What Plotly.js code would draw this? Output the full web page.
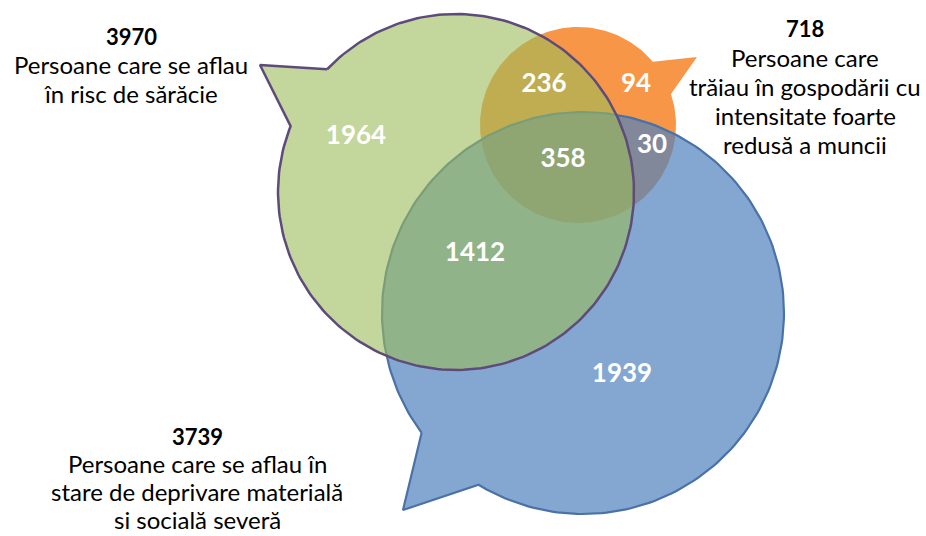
<!DOCTYPE html>
<html>
<head>
<meta charset="utf-8">
<script src="https://cdn.plot.ly/plotly-3.0.1.min.js"></script>
<style>html,body{margin:0;padding:0;background:#fff;}#chart{width:926px;height:536px;}</style>
</head>
<body>
<div id="chart"></div>
<script>
// ---- DATA ----
const setTotals = [3970, 718, 3739];
const setLabelLines = [
  ["Persoane care se aflau", "în risc de sărăcie"],
  ["Persoane care", "trăiau în gospodării cu", "intensitate foarte", "redusă a muncii"],
  ["Persoane care se aflau în", "stare de deprivare materială", "si socială severă"]
];
const regionNames = ["doar sărăcie", "sărăcie + muncă", "doar muncă", "toate trei", "muncă + deprivare", "sărăcie + deprivare", "doar deprivare"];
const regionValues = [1964, 236, 94, 358, 30, 1412, 1939];

// ---- GEOMETRY / STYLE (pixel space of the 926x536 canvas) ----
// set order: 0 = poverty (green), 1 = work intensity (orange), 2 = deprivation (blue)
const bubbles = [
  {cx: 456, cy: 192, r: 178, a1: -136.4, a2: 201.7, tip: [260, 65],
   fill: "rgba(155,187,89,0.6)", line: "#5F4B7B", lw: 2.5},
  {cx: 578, cy: 125, r: 98, a1: -18.4, a2: 319.8, tip: [697, 57],
   fill: "#F79646", line: "rgba(0,0,0,0)", lw: 0},
  {cx: 583, cy: 313, r: 201, a1: 143.4, a2: 481.3, tip: [403, 510],
   fill: "rgba(79,129,189,0.7)", line: "#4A72A8", lw: 2.2}
];
const drawOrder = [1, 2, 0];
const setLabelPos = [
  {x: 131, y0: 36, gap: 28.5},
  {x: 805, y0: 28, gap: 29.2},
  {x: 197, y0: 436, gap: 27.8}
];
const regionPos = [[356,137],[544,85],[636,85],[563,160],[652,146],[475,254],[622,375]];

function bubblePath(b) {
  const xs = [], ys = [];
  const n = 240;
  for (let i = 0; i <= n; i++) {
    const t = (b.a1 + (b.a2 - b.a1) * i / n) * Math.PI / 180;
    xs.push(b.cx + b.r * Math.cos(t));
    ys.push(b.cy + b.r * Math.sin(t));
  }
  xs.push(b.tip[0]); ys.push(b.tip[1]);
  xs.push(xs[0]); ys.push(ys[0]);
  return {xs, ys};
}

const traces = drawOrder.map(i => {
  const b = bubbles[i];
  const p = bubblePath(b);
  return {
    type: "scatter", mode: "lines", x: p.xs, y: p.ys,
    fill: "toself", fillcolor: b.fill,
    line: {color: b.line, width: b.lw, shape: "linear"},
    hoverinfo: "skip", showlegend: false
  };
});

traces.push({
  type: "scatter", mode: "text",
  x: regionPos.map(p => p[0]), y: regionPos.map(p => p[1]),
  text: regionValues.map(v => "<b>" + v + "</b>"),
  customdata: regionNames,
  textposition: "middle center",
  textfont: {family: "Lato, sans-serif", size: 26, color: "#ffffff"},
  hoverinfo: "skip", showlegend: false
});

const annotations = [];
setTotals.forEach((tot, i) => {
  const pos = setLabelPos[i];
  annotations.push({
    x: pos.x, y: pos.y0, xref: "x", yref: "y", showarrow: false,
    text: "<b>" + tot + "</b>", xanchor: "center", yanchor: "middle",
    font: {family: "Lato, sans-serif", size: 22, color: "#000000"}
  });
  setLabelLines[i].forEach((ln, j) => {
    annotations.push({
      x: pos.x, y: pos.y0 + pos.gap * (j + 1), xref: "x", yref: "y", showarrow: false,
      text: ln, xanchor: "center", yanchor: "middle", borderpad: 0,
      font: {family: "Lato, sans-serif", size: 24, color: "#000000"}
    });
  });
});

const layout = {
  width: 926, height: 536,
  margin: {l: 0, r: 0, t: 0, b: 0, pad: 0},
  paper_bgcolor: "#ffffff", plot_bgcolor: "#ffffff",
  xaxis: {range: [0, 926], visible: false, fixedrange: true},
  yaxis: {range: [536, 0], visible: false, fixedrange: true},
  showlegend: false,
  annotations: annotations
};

Plotly.newPlot("chart", traces, layout, {staticPlot: true, displayModeBar: false});
</script>
</body>
</html>
